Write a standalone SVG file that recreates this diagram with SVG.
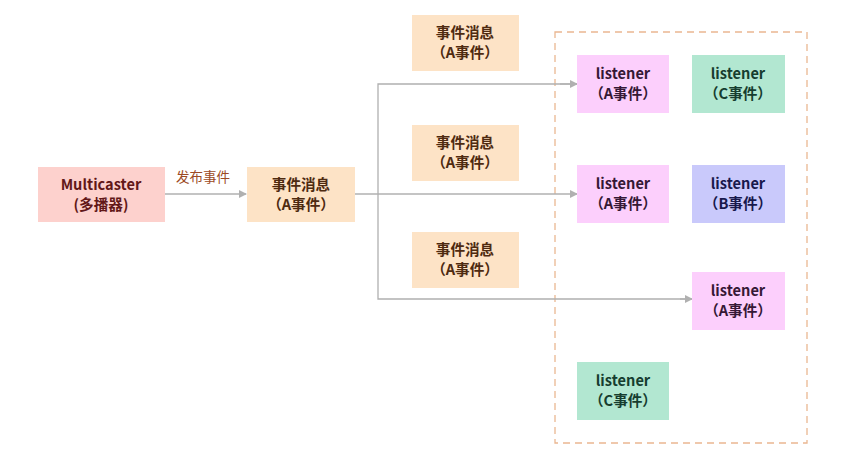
<svg xmlns="http://www.w3.org/2000/svg" width="853" height="463" viewBox="0 0 853 463">
<style>
text{font-family:"Noto Sans CJK SC","Noto Sans",sans-serif;font-weight:bold;font-size:14.6px;text-anchor:middle}
.msg rect{fill:#fde3c6}
.msg text{fill:#4e2a10}
.la rect{fill:#fccffc}
.la text{fill:#351835}
.lc rect{fill:#b2e7d1}
.lc text{fill:#163d2f}
.lb rect{fill:#c9c9fb}
.lb text{fill:#18184c}
.conn line,.conn path{stroke:#b0b0b0;stroke-width:1.3;fill:none}
</style>
<defs>
<marker id="ah" markerWidth="8" markerHeight="8" refX="7" refY="4" orient="auto" markerUnits="userSpaceOnUse">
<path d="M0,0 L8,4 L0,8 z" fill="#b0b0b0"/>
</marker>
</defs>
<rect width="853" height="463" fill="#ffffff"/>
<g id="container">
<rect x="555" y="32" width="252" height="411" fill="none" stroke="#eab791" stroke-width="1.3" stroke-dasharray="7,5"/>
</g>
<g class="conn" id="connectors">
<line x1="165" y1="194" x2="246" y2="194" marker-end="url(#ah)"/>
<line x1="355" y1="194" x2="577" y2="194" marker-end="url(#ah)"/>
<path d="M577,84 H378 V299 H692" />
<line x1="560" y1="84" x2="577" y2="84" marker-end="url(#ah)"/>
<line x1="680" y1="299" x2="692" y2="299" marker-end="url(#ah)"/>
</g>
<text x="203" y="182" style="font-weight:normal;font-size:13.5px;fill:#9c4a24">发布事件</text>
<g id="multicaster">
<rect x="38" y="167" width="127" height="55" fill="#fdd1cd"/>
<text x="101" y="190" fill="#621818">Multicaster</text>
<text x="101" y="210" fill="#621818">(多播器)</text>
</g>
<g id="msg-main" class="msg">
<rect x="247" y="167" width="108" height="55"/>
<text x="301" y="190">事件消息</text>
<text x="301" y="210">（A事件）</text>
</g>
<g id="msg-1" class="msg">
<rect x="412" y="15" width="107" height="56"/>
<text x="465" y="38">事件消息</text>
<text x="465" y="58">（A事件）</text>
</g>
<g id="msg-2" class="msg">
<rect x="412" y="125" width="107" height="56"/>
<text x="465" y="148">事件消息</text>
<text x="465" y="168">（A事件）</text>
</g>
<g id="msg-3" class="msg">
<rect x="412" y="232" width="107" height="56"/>
<text x="465" y="255">事件消息</text>
<text x="465" y="275">（A事件）</text>
</g>
<g id="listener-a1" class="la">
<rect x="577" y="55" width="92" height="58"/>
<text x="623" y="79">listener</text>
<text x="623" y="99">（A事件）</text>
</g>
<g id="listener-c1" class="lc">
<rect x="692" y="55" width="93" height="58"/>
<text x="738" y="79">listener</text>
<text x="738" y="99">（C事件）</text>
</g>
<g id="listener-a2" class="la">
<rect x="577" y="165" width="92" height="58"/>
<text x="623" y="189">listener</text>
<text x="623" y="209">（A事件）</text>
</g>
<g id="listener-b" class="lb">
<rect x="692" y="165" width="93" height="58"/>
<text x="738" y="189">listener</text>
<text x="738" y="209">（B事件）</text>
</g>
<g id="listener-a3" class="la">
<rect x="692" y="272" width="93" height="58"/>
<text x="738" y="296">listener</text>
<text x="738" y="316">（A事件）</text>
</g>
<g id="listener-c2" class="lc">
<rect x="577" y="362" width="92" height="58"/>
<text x="623" y="386">listener</text>
<text x="623" y="406">（C事件）</text>
</g>
</svg>
